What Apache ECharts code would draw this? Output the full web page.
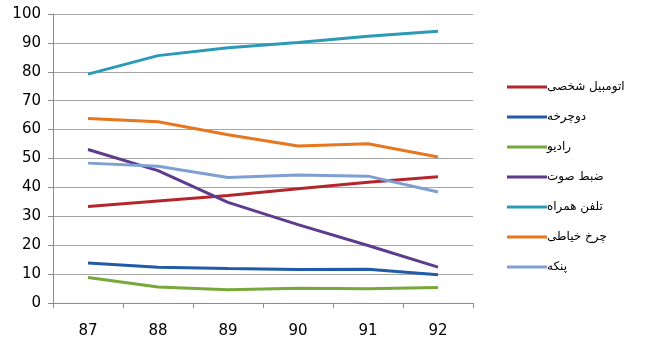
<!DOCTYPE html>
<html>
<head>
<meta charset="utf-8">
<script src="https://cdn.jsdelivr.net/npm/echarts@6/dist/echarts.min.js"></script>
<style>
  html, body { margin: 0; padding: 0; background: #fff; }
  #chart { width: 650px; height: 347px; }
</style>
</head>
<body>
<div id="chart"></div>
<script>
// Years (Persian calendar) on the category axis
const years = ['87', '88', '89', '90', '91', '92'];

// Series names
const names = ['اتومبیل شخصی', 'دوچرخه', 'رادیو', 'ضبط صوت', 'تلفن همراه', 'چرخ خیاطی', 'پنکه'];

// Values per item, one per year
const car        = [33.4, 35.3, 37.2, 39.5, 41.8, 43.7];
const bicycle    = [13.8, 12.4, 11.9, 11.6, 11.7, 9.8];
const radio      = [8.8, 5.5, 4.6, 5.1, 4.9, 5.4];
const recorder   = [53.1, 45.8, 34.8, 27.1, 19.9, 12.4];
const mobile     = [79.2, 85.6, 88.3, 90.1, 92.3, 94.0];
const sewing     = [63.8, 62.7, 58.2, 54.3, 55.1, 50.5];
const fan        = [48.4, 47.3, 43.4, 44.3, 43.9, 38.4];

const values = [car, bicycle, radio, recorder, mobile, sewing, fan];
const colors = ['#B3262C', '#1F5BA6', '#77A83A', '#5D3B8D', '#2B9AB6', '#E6771F', '#7E9FD2'];

const chart = echarts.init(document.getElementById('chart'), null, { renderer: 'canvas' });

chart.setOption({
  animation: false,
  backgroundColor: '#ffffff',
  grid: { left: 53, right: 177, top: 14, bottom: 44, containLabel: false },
  legend: {
    orient: 'vertical',
    left: 502,
    top: 74,
    itemWidth: 40,
    itemHeight: 3,
    itemGap: 14,
    icon: 'rect',
    textStyle: { fontFamily: 'DejaVu Sans', fontSize: 12, color: '#000', lineHeight: 16, padding: [0, 0, 0, -5] },
    data: names
  },
  xAxis: {
    type: 'category',
    data: years,
    boundaryGap: true,
    axisLine: { lineStyle: { color: '#8C8C8C', width: 1 } },
    axisTick: { show: true, length: 5, alignWithLabel: false, lineStyle: { color: '#8C8C8C' } },
    axisLabel: { fontFamily: 'DejaVu Sans', fontSize: 15, color: '#000', margin: 21 },
    splitLine: { show: false }
  },
  yAxis: {
    type: 'value',
    min: 0,
    max: 100,
    interval: 10,
    axisLine: { show: true, lineStyle: { color: '#8C8C8C', width: 1 } },
    axisTick: { show: true, length: 5, lineStyle: { color: '#8C8C8C' } },
    axisLabel: { fontFamily: 'DejaVu Sans', fontSize: 15, color: '#000', margin: 12 },
    splitLine: { show: true, lineStyle: { color: '#A6A6A6', width: 1 } }
  },
  series: names.map((n, i) => ({
    name: n,
    type: 'line',
    data: values[i],
    symbol: 'none',
    smooth: false,
    lineStyle: { color: colors[i], width: 3 },
    itemStyle: { color: colors[i] }
  }))
});
</script>
</body>
</html>
